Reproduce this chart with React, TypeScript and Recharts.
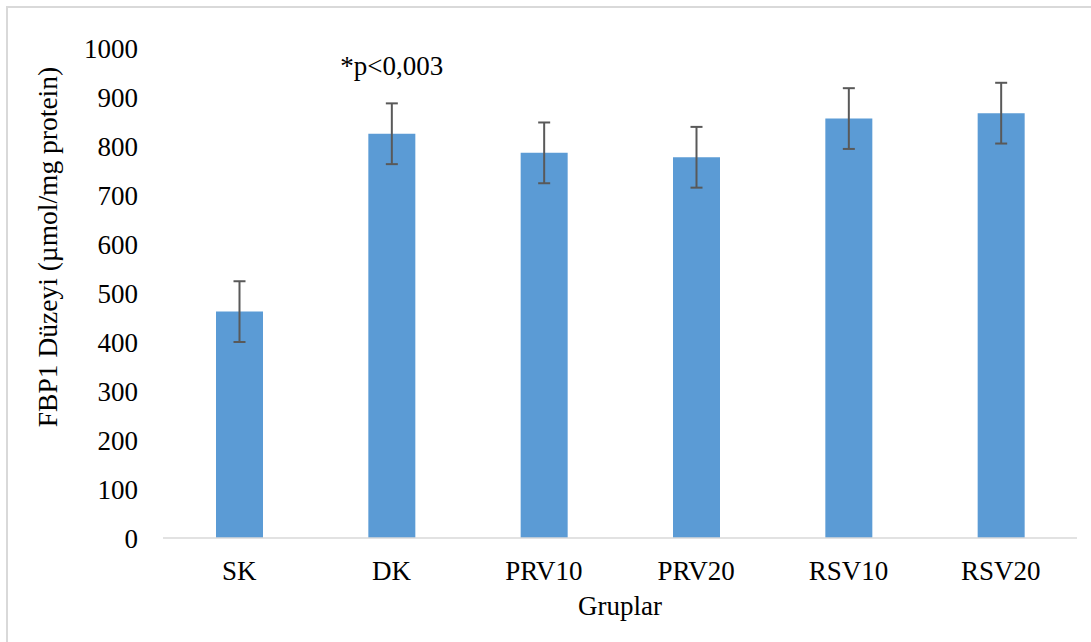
import { BarChart, Bar, XAxis, YAxis, ErrorBar, LabelList } from "recharts";

const GROUPS = ["SK", "DK", "PRV10", "PRV20", "RSV10", "RSV20"];
const FBP1_LEVELS = [462, 825, 786, 777, 856, 867];
const FBP1_SD = [62, 62, 62, 62, 62, 62];
const NOTES = ["", "*p<0,003", "", "", "", ""];
const Y_TICKS = [0, 100, 200, 300, 400, 500, 600, 700, 800, 900, 1000];

const data = GROUPS.map((g, i) => ({
  group: g,
  value: FBP1_LEVELS[i],
  err: FBP1_SD[i],
  note: NOTES[i],
}));

const FONT = "'Liberation Serif', 'Times New Roman', serif";

const YTitle = () => (
  <text
    x={57}
    y={247}
    transform="rotate(-90 57 247)"
    textAnchor="middle"
    fontFamily={FONT}
    fontSize={27.5}
    fill="#000"
  >
    FBP1 Düzeyi (µmol/mg protein)
  </text>
);

export default function App() {
  return (
    <div style={{ position: "absolute", left: 0, top: 0, width: 1091, height: 642, background: "#fff" }}>
      <div
        style={{
          position: "absolute",
          left: 6,
          top: 6,
          width: 1100,
          height: 660,
          borderLeft: "2px solid #d9d9d9",
          borderTop: "2px solid #d9d9d9",
        }}
      />
      <div style={{ position: "absolute", left: 0, top: 0 }}>
        <BarChart
          width={1091}
          height={642}
          data={data}
          margin={{ top: 48, right: 14, bottom: 51, left: 0 }}
        >
          <XAxis
            dataKey="group"
            stroke="#d9d9d9"
            strokeWidth={1.5}
            tickLine={false}
            tickMargin={17}
            height={53}
            tick={{ fontSize: 27, fill: "#000", fontFamily: FONT }}
            label={{
              value: "Gruplar",
              position: "bottom",
              offset: 5,
              fontSize: 27,
              fill: "#000",
              fontFamily: FONT,
            }}
          />
          <YAxis
            width={163}
            domain={[0, 1000]}
            ticks={Y_TICKS}
            axisLine={false}
            tickLine={false}
            tickMargin={19}
            tick={{ fontSize: 27, fill: "#000", fontFamily: FONT }}
            label={{ content: () => <YTitle /> }}
          />
          <Bar dataKey="value" fill="#5b9bd5" barSize={47} isAnimationActive={false}>
            <ErrorBar dataKey="err" stroke="#595959" strokeWidth={2} width={6} />
            <LabelList
              dataKey="note"
              position="top"
              offset={59}
              fontSize={27}
              fill="#000"
              fontFamily={FONT}
            />
          </Bar>
        </BarChart>
      </div>
    </div>
  );
}
